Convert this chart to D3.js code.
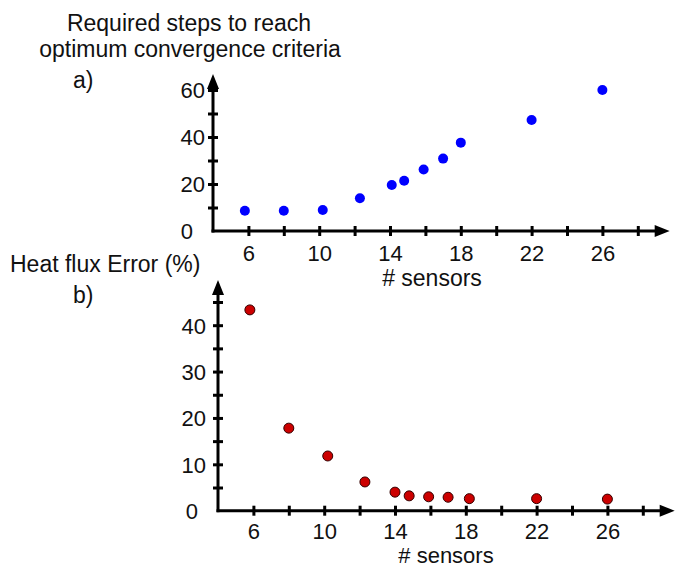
<!DOCTYPE html>
<html>
<head>
<meta charset="utf-8">
<script src="https://cdn.jsdelivr.net/npm/d3@7"></script>
<style>
  body { margin: 0; background: #fff; }
  svg text { font-family: "Liberation Sans", Arial, Helvetica, sans-serif; fill: #111; }
</style>
</head>
<body>
<svg id="chart" width="695" height="567"></svg>
<script>
// Panel a) required iteration steps vs. number of sensors
const sensorsA = [5.8, 8.0, 10.2, 12.3, 14.1, 14.8, 15.9, 17.0, 18.0, 22.0, 26.0];
const stepsA   = [8.6, 8.6, 8.9, 13.9, 19.6, 21.4, 26.2, 30.8, 37.6, 47.2, 60.0];

// Panel b) heat flux error (%) vs. number of sensors
const sensorsB = [5.8, 8.0, 10.2, 12.3, 14.0, 14.8, 15.9, 17.0, 18.2, 22.0, 26.0];
const errorB   = [43.3, 17.8, 11.8, 6.2, 4.0, 3.2, 3.0, 2.9, 2.6, 2.6, 2.5];

// Tick positions and labelled ticks
const xTicks      = [6, 8, 10, 12, 14, 16, 18, 20, 22, 24, 26, 28];
const xTickLabels = [6, 10, 14, 18, 22, 26];
const yTicksA      = [10, 20, 30, 40, 50, 60];
const yTickLabelsA = [0, 20, 40, 60];
const yTicksB      = [5, 10, 15, 20, 25, 30, 35, 40, 45];
const yTickLabelsB = [0, 10, 20, 30, 40];

const svg = d3.select("#chart");

function drawPanel(cfg) {
  const x = d3.scaleLinear().domain([4, 30]).range([cfg.ox, cfg.ox + 26 * 17.7]);
  const y = d3.scaleLinear().domain([0, cfg.yMax]).range([cfg.oy, cfg.yTopPx]);
  const g = svg.append("g");

  // axis lines with arrowheads
  const xTip = x(29.8), yTip = cfg.yTipPx;
  g.append("line")
    .attr("x1", x(4) - 1.5).attr("x2", xTip - 10)
    .attr("y1", y(0)).attr("y2", y(0))
    .attr("stroke", "#000").attr("stroke-width", 3);
  g.append("path")
    .attr("d", `M${xTip},${y(0)} L${xTip - 15},${y(0) - 6} L${xTip - 15},${y(0) + 6} Z`)
    .attr("fill", "#000");
  g.append("line")
    .attr("x1", x(4)).attr("x2", x(4))
    .attr("y1", y(0) + 1.5).attr("y2", yTip + 10)
    .attr("stroke", "#000").attr("stroke-width", 3);
  g.append("path")
    .attr("d", `M${x(4)},${yTip} L${x(4) - 6},${yTip + 15} L${x(4) + 6},${yTip + 15} Z`)
    .attr("fill", "#000");

  // x axis ticks
  const xa = g.append("g")
    .attr("transform", `translate(0,${y(0)})`)
    .call(d3.axisBottom(x).tickValues(xTicks).tickSize(0)
      .tickFormat(d => xTickLabels.includes(d) ? d : ""));
  xa.select(".domain").remove();
  xa.selectAll(".tick line")
    .attr("y1", -5).attr("y2", 5)
    .attr("stroke", "#000").attr("stroke-width", 3);
  xa.selectAll(".tick text")
    .attr("y", cfg.xLabelDy).attr("dy", 0)
    .attr("font-size", 22).attr("font-family", null).attr("fill", "#111");

  // y axis ticks
  const ya = g.append("g")
    .attr("transform", `translate(${x(4)},0)`)
    .call(d3.axisLeft(y).tickValues(cfg.yTicks).tickSize(0)
      .tickFormat(d => cfg.yLabels.includes(d) ? d : ""));
  ya.select(".domain").remove();
  ya.selectAll(".tick line")
    .attr("x1", -5).attr("x2", 5)
    .attr("stroke", "#000").attr("stroke-width", 3);
  ya.selectAll(".tick text")
    .attr("x", -cfg.yLabelGap).attr("dy", "0.36em")
    .attr("font-size", 22).attr("font-family", null).attr("fill", "#111");
  // the zero label sits at the corner of the axes
  ya.append("text")
    .attr("x", -20).attr("y", y(0)).attr("dy", "0.36em")
    .attr("text-anchor", "end").attr("font-size", 22)
    .text(0);

  // x axis title
  g.append("text")
    .attr("x", cfg.xTitleX).attr("y", cfg.xTitleY)
    .attr("text-anchor", "middle").attr("font-size", cfg.xTitleSize)
    .text("# sensors");

  // points
  g.selectAll("circle.pt")
    .data(cfg.xs.map((v, i) => [v, cfg.ys[i]]))
    .join("circle")
    .attr("class", "pt")
    .attr("cx", d => x(d[0])).attr("cy", d => y(d[1]))
    .attr("r", 5)
    .attr("fill", cfg.color)
    .attr("stroke", cfg.stroke || "none")
    .attr("stroke-width", cfg.stroke ? 1 : 0);
}

drawPanel({
  ox: 213, oy: 231, yMax: 60, yTopPx: 90, yTipPx: 74,
  yTicks: yTicksA, yLabels: yTickLabelsA.filter(d => d !== 0), yLabelGap: 8,
  xLabelDy: 30, xTitleX: 432, xTitleY: 286, xTitleSize: 23,
  xs: sensorsA, ys: stepsA, color: "#0000ff"
});

drawPanel({
  ox: 218, oy: 510.7, yMax: 45, yTopPx: 302, yTipPx: 280,
  yTicks: yTicksB, yLabels: yTickLabelsB.filter(d => d !== 0), yLabelGap: 12,
  xLabelDy: 28.5, xTitleX: 446, xTitleY: 562.5, xTitleSize: 22,
  xs: sensorsB, ys: errorB, color: "#cc0000", stroke: "#330000"
});

// panel titles
svg.append("text").attr("x", 189).attr("y", 31)
  .attr("text-anchor", "middle").attr("font-size", 23)
  .text("Required steps to reach");
svg.append("text").attr("x", 190).attr("y", 57)
  .attr("text-anchor", "middle").attr("font-size", 23)
  .text("optimum convergence criteria");
svg.append("text").attr("x", 73).attr("y", 88)
  .attr("font-size", 23).text("a)");
svg.append("text").attr("x", 10).attr("y", 272)
  .attr("font-size", 23).text("Heat flux Error (%)");
svg.append("text").attr("x", 73).attr("y", 303)
  .attr("font-size", 23).text("b)");
</script>
</body>
</html>
